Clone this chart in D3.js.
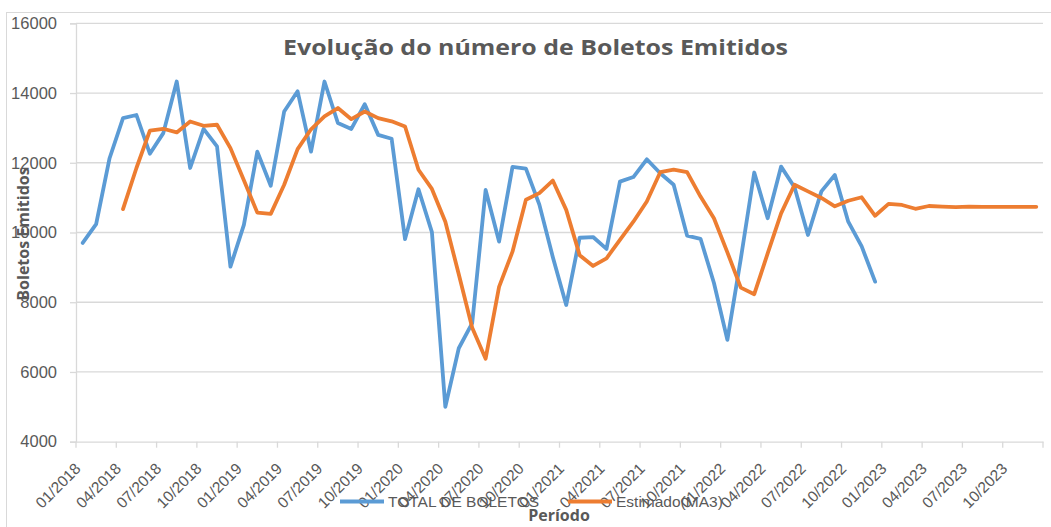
<!DOCTYPE html>
<html>
<head>
<meta charset="utf-8">
<script src="https://cdn.jsdelivr.net/npm/d3@7"></script>
<style>
  body { margin: 0; background: #fff; }
  svg { display: block; font-family: "Liberation Sans", Arial, sans-serif; }
</style>
</head>
<body>
<div id="chart"></div>
<script>
// Categories: one per month, 01/2018 .. 12/2023
const years = [2018, 2019, 2020, 2021, 2022, 2023];
const months = [];
years.forEach(y => { for (let m = 1; m <= 12; m++) months.push(String(m).padStart(2, "0") + "/" + y); });

// Tick labels shown on the x axis (every 3 months)
const xTickLabels = months.filter((d, i) => i % 3 === 0);
const yTicks = [4000, 6000, 8000, 10000, 12000, 14000, 16000];

// TOTAL DE BOLETOS (01/2018 .. 12/2022)
const totalBoletos = [
  9700, 10240, 12130, 13280, 13370, 12260, 12850, 14330, 11850, 12970, 12470, 9020,
  10220, 12320, 11340, 13470, 14050, 12320, 14330, 13140, 12970, 13680, 12800, 12690,
  9810, 11240, 10010, 5000, 6680, 7400, 11220, 9740, 11880, 11830, 10800, 9300,
  7920, 9850, 9870, 9530, 11460, 11590, 12100, 11700, 11370, 9910, 9820, 8550,
  6920, 9250, 11720, 10410, 11890, 11300, 9930, 11180, 11650, 10310, 9600, 8590
];

// Estimado (MA3) (starts 04/2018, runs to 12/2023)
const estimado = [
  null, null, null, 10670, 11850, 12920, 12975, 12870, 13185, 13060, 13090, 12420,
  11500, 10570, 10535, 11370, 12390, 12960, 13330, 13570, 13250, 13470, 13280, 13190,
  13040, 11800, 11250, 10310, 8800, 7270, 6380, 8440, 9450, 10940, 11130, 11490,
  10650, 9350, 9040, 9260, 9790, 10310, 10890, 11730, 11800, 11730, 11030, 10410,
  9430, 8420, 8230, 9400, 10550, 11370, 11180, 10990, 10750, 10910, 11010, 10480,
  10820, 10790, 10680, 10760, 10745, 10725, 10740, 10735, 10735, 10735, 10735, 10735
];

const width = 1051, height = 527;
const plotLeft = 76, plotRight = 1043, plotTop = 23.3, plotBottom = 441.7;
const textColor = "#595959", gridColor = "#d9d9d9";
const blue = "#5b9bd5", orange = "#ed7d31";

const svg = d3.select("#chart").append("svg")
  .attr("width", width).attr("height", height);

// chart border
svg.append("rect")
  .attr("x", 6.5).attr("y", 12.5).attr("width", 1100).attr("height", 600)
  .attr("fill", "none").attr("stroke", gridColor).attr("stroke-width", 1);

const x = d3.scaleBand(months, [plotLeft, plotRight]).paddingInner(0).paddingOuter(0);
const y = d3.scaleLinear([4000, 16000], [plotBottom, plotTop]);
const cx = d => x(d) + x.bandwidth() / 2;

// gridlines
svg.append("g")
  .selectAll("line")
  .data(yTicks.filter(v => v > 4000))
  .join("line")
  .attr("x1", plotLeft).attr("x2", plotRight)
  .attr("y1", d => y(d)).attr("y2", d => y(d))
  .attr("stroke", gridColor).attr("stroke-width", 1.3);

// y axis
const axisY = svg.append("g")
  .attr("transform", `translate(${plotLeft},0)`)
  .call(d3.axisLeft(y).tickValues(yTicks).tickSize(6).tickPadding(13).tickFormat(d3.format("d")));
axisY.select(".domain").attr("stroke", gridColor).attr("stroke-width", 1.3);
axisY.selectAll(".tick line").attr("stroke", gridColor).attr("stroke-width", 1.3);
axisY.selectAll(".tick text")
  .attr("fill", textColor).style("font-size", "16.5px")
  .attr("font-family", null);

// x axis: labels at category centres, ticks at category boundaries
const axisX = svg.append("g")
  .attr("transform", `translate(0,${plotBottom})`)
  .call(d3.axisBottom(x).tickValues(xTickLabels).tickSize(0));
axisX.select(".domain").attr("stroke", gridColor).attr("stroke-width", 1.3);
axisX.selectAll(".tick text")
  .attr("fill", textColor).style("font-size", "15.5px")
  .attr("font-family", null)
  .attr("text-anchor", "end")
  .attr("y", 0).attr("dy", 0)
  .attr("transform", "translate(-1,28) rotate(-45)");

svg.append("g")
  .selectAll("line")
  .data(xTickLabels.concat([null]))
  .join("line")
  .attr("x1", d => d === null ? plotRight : x(d))
  .attr("x2", d => d === null ? plotRight : x(d))
  .attr("y1", plotBottom).attr("y2", plotBottom + 6)
  .attr("stroke", gridColor).attr("stroke-width", 1.3);

// lines
const line = d3.line()
  .defined(d => d[1] !== null)
  .x(d => cx(d[0]))
  .y(d => y(d[1]));

svg.append("path")
  .datum(totalBoletos.map((v, i) => [months[i], v]))
  .attr("d", line)
  .attr("fill", "none").attr("stroke", blue).attr("stroke-width", 3.8)
  .attr("stroke-linejoin", "round").attr("stroke-linecap", "round");

svg.append("path")
  .datum(estimado.map((v, i) => [months[i], v]))
  .attr("d", line)
  .attr("fill", "none").attr("stroke", orange).attr("stroke-width", 3.8)
  .attr("stroke-linejoin", "round").attr("stroke-linecap", "round");

// title
svg.append("text")
  .attr("x", 535.5).attr("y", 55)
  .attr("text-anchor", "middle")
  .attr("fill", textColor)
  .style("font-family", "'Open Sans', sans-serif")
  .style("font-size", "21px").style("font-weight", "bold")
  .attr("textLength", 505).attr("lengthAdjust", "spacingAndGlyphs")
  .text("Evolução do número de Boletos Emitidos");

// axis titles
svg.append("text")
  .attr("transform", "translate(29,234) rotate(-90)")
  .attr("text-anchor", "middle")
  .attr("fill", textColor)
  .style("font-family", "'Open Sans', sans-serif")
  .style("font-size", "16px").style("font-weight", "bold")
  .text("Boletos Emitidos");

svg.append("text")
  .attr("x", 559).attr("y", 521)
  .attr("text-anchor", "middle")
  .attr("fill", textColor)
  .style("font-family", "'Open Sans', sans-serif")
  .style("font-size", "16px").style("font-weight", "bold")
  .text("Período");

// legend
const legend = [
  { name: "TOTAL DE BOLETOS", color: blue, x: 340 },
  { name: "Estimado(MA3)", color: orange, x: 568 }
];
const lg = svg.append("g").selectAll("g").data(legend).join("g")
  .attr("transform", d => `translate(${d.x},501.5)`);
lg.append("line")
  .attr("x1", 0).attr("x2", 44)
  .attr("stroke", d => d.color).attr("stroke-width", 3.8);
lg.append("text")
  .attr("x", 48).attr("y", 5.5)
  .attr("fill", textColor).style("font-size", "15.5px")
  .text(d => d.name);
</script>
</body>
</html>
